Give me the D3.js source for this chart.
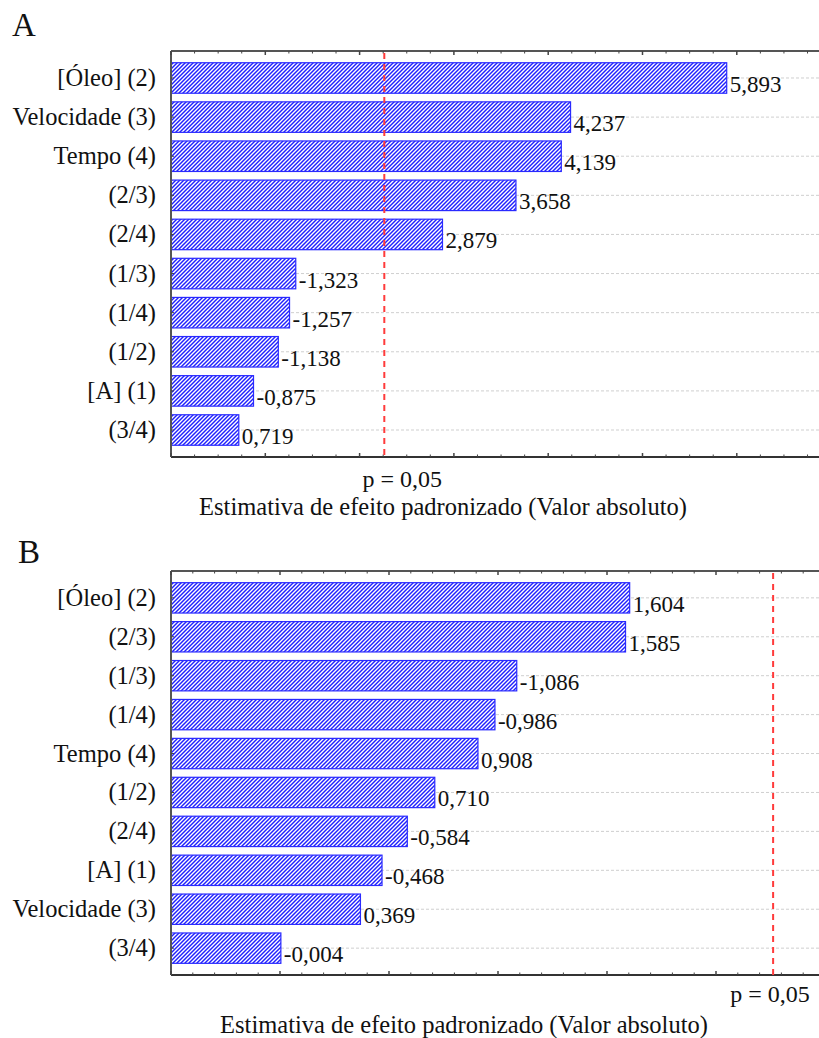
<!DOCTYPE html>
<html>
<head>
<meta charset="utf-8">
<script src="https://cdn.jsdelivr.net/npm/d3@7"></script>
<style>
  body { margin: 0; background: #fff; }
  svg { display: block; font-family: "Liberation Serif", "Times New Roman", serif; }
</style>
</head>
<body>
<div id="chart"></div>
<script>
// panel A
const catsA = ["[Óleo] (2)", "Velocidade (3)", "Tempo (4)", "(2/3)", "(2/4)", "(1/3)", "(1/4)", "(1/2)", "[A] (1)", "(3/4)"];
const valsA = [5.893, 4.237, 4.139, 3.658, 2.879, -1.323, -1.257, -1.138, -0.875, 0.719];
// panel B
const catsB = ["[Óleo] (2)", "(2/3)", "(1/3)", "(1/4)", "Tempo (4)", "(1/2)", "(2/4)", "[A] (1)", "Velocidade (3)", "(3/4)"];
const valsB = [1.604, 1.585, -1.086, -0.986, 0.908, 0.710, -0.584, -0.468, 0.369, -0.004];

const pCrit = 2.262; // p = 0,05
const pLabel = "p = 0,05";
const xTitle = "Estimativa de efeito padronizado (Valor absoluto)";

const width = 819, height = 1038;
const locale = d3.formatLocale({ decimal: ",", thousands: ".", grouping: [3], currency: ["", ""], minus: "-" });
const fmt = locale.format(".3f");

const svg = d3.select("#chart").append("svg")
  .attr("width", width)
  .attr("height", height);

const defs = svg.append("defs");
const pat = defs.append("pattern")
  .attr("id", "hatch")
  .attr("patternUnits", "userSpaceOnUse")
  .attr("width", 4)
  .attr("height", 4);
pat.append("rect").attr("width", 4).attr("height", 4).attr("fill", "#fff");
pat.append("path")
  .attr("d", "M-1,1 l2,-2 M0,4 l4,-4 M3,5 l2,-2")
  .attr("stroke", "#2020ff")
  .attr("stroke-width", 1.45);

function drawPanel(cfg) {
  const g = svg.append("g");
  const x = d3.scaleLinear().domain(cfg.xDomain).range([cfg.left, cfg.right]);
  const y = d3.scaleBand().domain(cfg.cats).range([cfg.top, cfg.bottom])
    .paddingInner(0.22).paddingOuter(0.3);
  const x0 = x(cfg.xDomain[0]);

  // letter
  g.append("text")
    .attr("x", cfg.letterX).attr("y", cfg.letterY)
    .attr("font-size", 33).attr("fill", "#111")
    .text(cfg.letter);

  // grid lines
  g.selectAll(".grid").data(cfg.cats).enter().append("line")
    .attr("x1", x0).attr("x2", cfg.right)
    .attr("y1", d => y(d) + y.bandwidth() / 2)
    .attr("y2", d => y(d) + y.bandwidth() / 2)
    .attr("stroke", "#cfcfcf")
    .attr("stroke-width", 1)
    .attr("stroke-dasharray", "3,2");

  // bars
  g.selectAll(".bar").data(cfg.vals).enter().append("rect")
    .attr("x", x0)
    .attr("y", (d, i) => y(cfg.cats[i]))
    .attr("width", d => x(Math.abs(d)) - x0)
    .attr("height", y.bandwidth())
    .attr("fill", "url(#hatch)")
    .attr("stroke", "#2a2aff")
    .attr("stroke-width", 1.2);

  // value labels
  g.selectAll(".val").data(cfg.vals).enter().append("text")
    .attr("x", d => x(Math.abs(d)) + 3)
    .attr("y", (d, i) => y(cfg.cats[i]) + y.bandwidth() / 2 + 14)
    .attr("font-size", 23)
    .attr("fill", "#111")
    .text(d => fmt(d));

  // category labels
  g.selectAll(".cat").data(cfg.cats).enter().append("text")
    .attr("x", cfg.left - 15)
    .attr("y", d => y(d) + y.bandwidth() / 2 + 8)
    .attr("text-anchor", "end")
    .attr("font-size", 24.5)
    .attr("fill", "#111")
    .text(d => d);

  // frame
  g.append("line").attr("x1", x0).attr("x2", cfg.right).attr("y1", cfg.top).attr("y2", cfg.top)
    .attr("stroke", "#555").attr("stroke-width", 2);
  g.append("line").attr("x1", x0).attr("x2", cfg.right).attr("y1", cfg.bottom).attr("y2", cfg.bottom)
    .attr("stroke", "#333").attr("stroke-width", 2);
  g.append("line").attr("x1", x0).attr("x2", x0).attr("y1", cfg.top).attr("y2", cfg.bottom)
    .attr("stroke", "#555").attr("stroke-width", 2);

  // y ticks
  g.selectAll(".yt").data(cfg.cats).enter().append("line")
    .attr("x1", x0).attr("x2", x0 + 3)
    .attr("y1", d => y(d) + y.bandwidth() / 2)
    .attr("y2", d => y(d) + y.bandwidth() / 2)
    .attr("stroke", "#444");

  // x ticks (top and bottom, inward, no labels)
  const minor = d3.range(cfg.xDomain[0], cfg.xDomain[1] + 1e-9, cfg.minorStep);
  const isMajor = v => Math.abs(v / cfg.majorStep - Math.round(v / cfg.majorStep)) < 1e-6;
  g.selectAll(".tb").data(minor).enter().append("line")
    .attr("x1", d => x(d)).attr("x2", d => x(d))
    .attr("y1", cfg.bottom).attr("y2", d => cfg.bottom - (isMajor(d) ? 4 : 2.5))
    .attr("stroke", "#444").attr("stroke-width", d => isMajor(d) ? 1.5 : 1);
  g.selectAll(".tt").data(minor).enter().append("line")
    .attr("x1", d => x(d)).attr("x2", d => x(d))
    .attr("y1", cfg.top).attr("y2", d => cfg.top + (isMajor(d) ? 4 : 2.5))
    .attr("stroke", "#444").attr("stroke-width", d => isMajor(d) ? 1.5 : 1);

  // significance line
  g.append("line")
    .attr("x1", x(pCrit)).attr("x2", x(pCrit))
    .attr("y1", cfg.top + 2).attr("y2", cfg.bottom)
    .attr("stroke", "#ff3b3b")
    .attr("stroke-width", 2)
    .attr("stroke-dasharray", "6,5");

  g.append("text")
    .attr("x", x(pCrit) + cfg.pOffset)
    .attr("y", cfg.pY)
    .attr("text-anchor", "middle")
    .attr("font-size", 24).attr("fill", "#111")
    .text(pLabel);

  g.append("text")
    .attr("x", cfg.titleX)
    .attr("y", cfg.titleY)
    .attr("text-anchor", "middle")
    .attr("font-size", 24.5).attr("fill", "#111")
    .text(xTitle);
}

drawPanel({
  letter: "A", letterX: 12, letterY: 36,
  cats: catsA, vals: valsA,
  xDomain: [0, 7], minorStep: 0.25, majorStep: 1,
  left: 171, right: 171 + 7 * 94.3, top: 51, bottom: 457,
  pOffset: 18, pY: 487,
  titleX: 443, titleY: 515
});

drawPanel({
  letter: "B", letterX: 18, letterY: 563,
  cats: catsB, vals: valsB,
  xDomain: [-0.5, 2.5], minorStep: 0.1, majorStep: 0.5,
  left: 171, right: 171 + 3 * 218, top: 571, bottom: 975,
  pOffset: -3, pY: 1002,
  titleX: 464, titleY: 1033
});
</script>
</body>
</html>
